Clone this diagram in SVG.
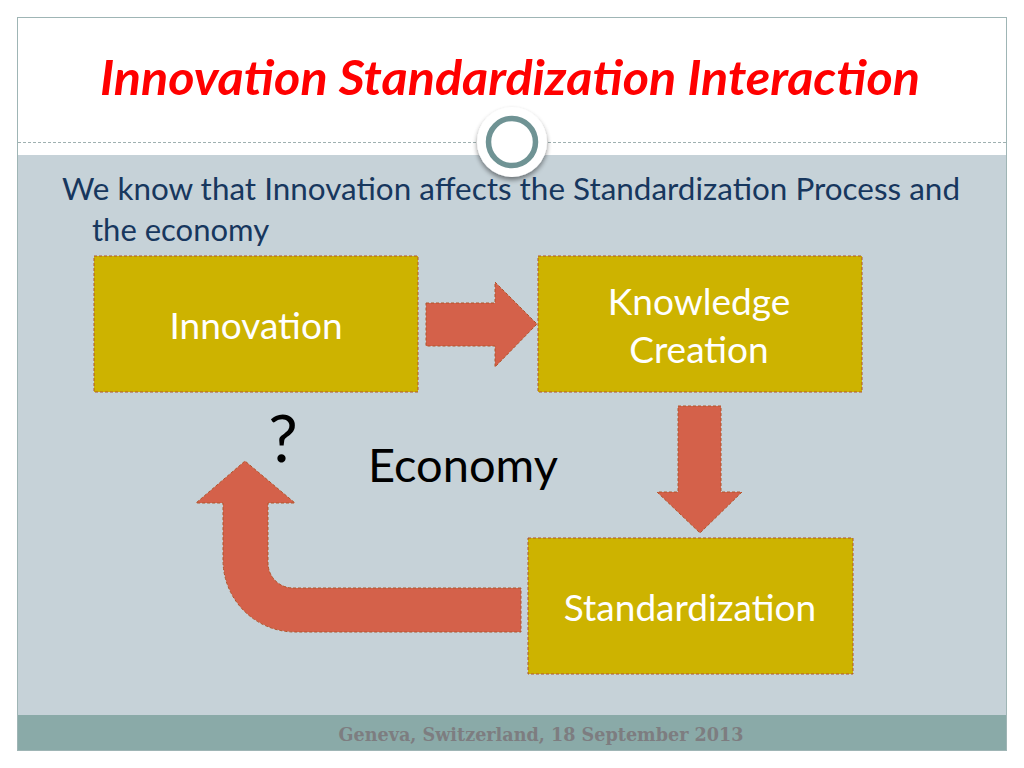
<svg xmlns="http://www.w3.org/2000/svg" width="1024" height="768" viewBox="0 0 1024 768">
<defs>
<style>
.box{fill:#cdb300;stroke:#b0552a;stroke-width:1;stroke-dasharray:3 2}
.arrow{fill:#d4614a;stroke:#b0552a;stroke-width:1;stroke-dasharray:3 2}
.btxt{font-family:Lato,"Liberation Sans",sans-serif;font-size:37px;fill:#ffffff;text-anchor:middle}
</style>
<filter id="sh" x="-50%" y="-50%" width="200%" height="200%">
<feGaussianBlur in="SourceAlpha" stdDeviation="2.5"/>
<feOffset dx="0" dy="3" result="b"/>
<feComponentTransfer><feFuncA type="linear" slope="0.45"/></feComponentTransfer>
<feMerge><feMergeNode/><feMergeNode in="SourceGraphic"/></feMerge>
</filter>
</defs>
<rect x="0" y="0" width="1024" height="768" fill="#ffffff"/>
<g id="slide">
<rect x="17.5" y="17.5" width="989" height="733" fill="#ffffff" stroke="#9fb5b5" stroke-width="1"/>
<rect x="18" y="155" width="988" height="560" fill="#c6d2d8"/>
<rect x="18" y="715" width="988" height="35" fill="#8aaaa8"/>
<line x1="18" y1="142.5" x2="1006" y2="142.5" stroke="#9fb0b0" stroke-width="1" stroke-dasharray="3 2"/>
<circle cx="512" cy="142" r="35" fill="#ffffff" filter="url(#sh)"/>
<circle cx="512" cy="142" r="23.5" fill="#ffffff" stroke="#6f9394" stroke-width="5.5"/>
</g>
<text x="510" y="95" font-family="Lato,'Liberation Sans',sans-serif" font-size="47" font-weight="bold" font-style="italic" fill="#ff0000" text-anchor="middle" textLength="820" lengthAdjust="spacingAndGlyphs">Innovation Standardization Interaction</text>
<text font-family="Lato,'Liberation Sans',sans-serif" font-size="31" fill="#17375e"><tspan x="62" y="200" textLength="898" lengthAdjust="spacingAndGlyphs">We know that Innovation affects the Standardization Process and</tspan><tspan x="92" y="241">the economy</tspan></text>
<g id="connectors">
<path class="arrow" d="M426,303 H495 V282 L537,324 L495,367 V346 H426 Z"/>
<path class="arrow" d="M678,406 H721 V492 H742 L700,533 L657,492 H678 Z"/>
<path class="arrow" d="M521,588 H293 A25,25 0 0 1 268,563 V503 H295 L245,461 L196,503 H223 V560 A72,72 0 0 0 295,632 H521 Z"/>
</g>
<g id="node-innovation">
<rect class="box" x="94" y="256" width="324" height="136"/>
<text class="btxt" x="256" y="339">Innovation</text>
</g>
<g id="node-knowledge">
<rect class="box" x="538" y="256" width="324" height="136"/>
<text class="btxt" x="699" y="315">Knowledge</text>
<text class="btxt" x="699" y="363">Creation</text>
</g>
<g id="node-standardization">
<rect class="box" x="528" y="538" width="325" height="136"/>
<text class="btxt" x="690" y="621">Standardization</text>
</g>
<text x="283" y="462" font-family="Lato,'Liberation Sans',sans-serif" font-size="66" fill="#000000" text-anchor="middle">?</text>
<text x="463" y="482" font-family="Lato,'Liberation Sans',sans-serif" font-size="47" fill="#000000" text-anchor="middle">Economy</text>
<text x="541" y="741" font-family="'DejaVu Serif',serif" font-size="18" font-weight="bold" fill="#7d7d80" text-anchor="middle" textLength="405" lengthAdjust="spacingAndGlyphs">Geneva, Switzerland, 18 September 2013</text>
</svg>
